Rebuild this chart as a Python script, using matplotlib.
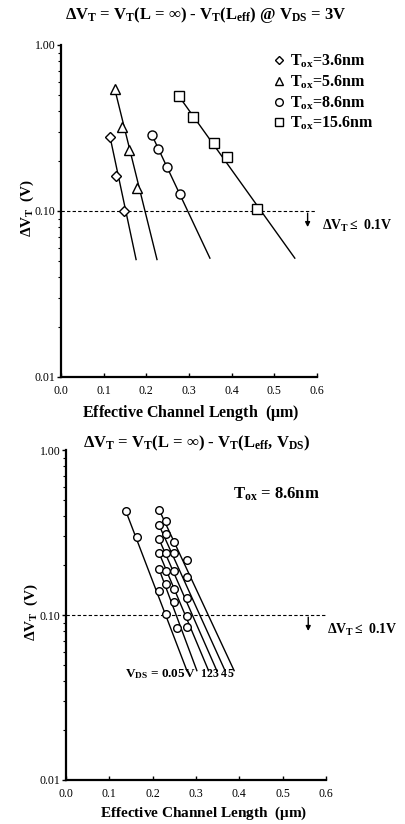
import numpy as np
import matplotlib
matplotlib.use("Agg")
import matplotlib.pyplot as plt
from matplotlib.lines import Line2D

plt.rcParams['font.family'] = ['Liberation Serif', 'DejaVu Serif']
plt.rcParams['mathtext.fontset'] = 'custom'
plt.rcParams['mathtext.rm'] = 'Liberation Serif:bold'
plt.rcParams['mathtext.bf'] = 'Liberation Serif:bold'
plt.rcParams['mathtext.it'] = 'Liberation Serif:bold'

# ---- top panel: Tox series at VDS = 3V ----
tox_labels = ['T$_{ox}$=3.6nm', 'T$_{ox}$=5.6nm', 'T$_{ox}$=8.6nm', 'T$_{ox}$=15.6nm']
tox_markers = ['D', '^', 'o', 's']
tox_L = [
    [0.115, 0.129, 0.148],
    [0.126, 0.143, 0.159, 0.178],
    [0.213, 0.227, 0.248, 0.279],
    [0.276, 0.309, 0.358, 0.389, 0.459],
]
tox_dvt = [
    [0.279, 0.163, 0.100],
    [0.543, 0.321, 0.233, 0.138],
    [0.287, 0.236, 0.184, 0.126],
    [0.493, 0.368, 0.257, 0.211, 0.103],
]
# lower end of each fitted line
tox_end_L = [0.176, 0.225, 0.349, 0.548]
tox_end_dvt = [0.051, 0.051, 0.052, 0.052]

# ---- bottom panel: VDS series at Tox = 8.6nm ----
vds_labels = ['0.05V', '1', '2', '3', '4', '5']
vds_L = [
    [0.138, 0.165, 0.215, 0.231, 0.256],
    [0.215, 0.231, 0.250, 0.280],
    [0.215, 0.231, 0.250, 0.280],
    [0.215, 0.231, 0.250, 0.280],
    [0.215, 0.231, 0.250, 0.280],
    [0.215, 0.231, 0.250, 0.280],
]
vds_dvt = [
    [0.427, 0.297, 0.139, 0.102, 0.083],
    [0.189, 0.155, 0.120, 0.085],
    [0.237, 0.185, 0.143, 0.099],
    [0.287, 0.237, 0.185, 0.127],
    [0.349, 0.310, 0.237, 0.170],
    [0.434, 0.370, 0.277, 0.216],
]
vds_end_L = [0.279, 0.302, 0.329, 0.348, 0.367, 0.388]
vds_end_dvt = [0.046, 0.046, 0.046, 0.046, 0.046, 0.046]

x_ticks = [0.0, 0.1, 0.2, 0.3, 0.4, 0.5, 0.6]
y_ticks = [0.01, 0.10, 1.00]
y_tick_labels = ['0.01', '0.10', '1.00']

W, H = 406, 824
fig = plt.figure(figsize=(W / 100, H / 100), dpi=100)


def px_axes(l, t, r, b):
    return fig.add_axes([l / W, 1 - b / H, (r - l) / W, (b - t) / H])


def style_axes(ax):
    ax.set_xlim(0, 0.6)
    ax.set_ylim(0.01, 1.0)
    ax.set_yscale('log')
    for s in ['top', 'right']:
        ax.spines[s].set_visible(False)
    for s in ['left', 'bottom']:
        ax.spines[s].set_linewidth(1.6)
    ax.set_xticks(x_ticks)
    ax.set_xticklabels(['%.1f' % v for v in x_ticks])
    ax.set_yticks(y_ticks)
    ax.set_yticklabels(y_tick_labels)
    ax.tick_params(axis='x', direction='in', length=3, width=1, labelsize=8.5, pad=6)
    ax.tick_params(axis='y', which='major', direction='out', length=3, width=1, labelsize=8.5, pad=1)
    ax.tick_params(axis='y', which='minor', direction='out', length=2, width=0.8)
    ax.set_facecolor('none')


def threshold(ax, arrow_x, text_x):
    ax.plot([0, 0.6], [0.1, 0.1], color='black', lw=0.8, ls=(0, (3, 2)))
    ax.annotate('', xy=(arrow_x, 0.08), xytext=(arrow_x, 0.097),
                arrowprops=dict(arrowstyle='-|>', lw=1.0, color='black',
                                mutation_scale=7, shrinkA=0, shrinkB=0),
                annotation_clip=False)
    ax.text(text_x, 0.081, r'$\Delta$V$_\mathbf{T}$$\leq$ 0.1V', fontsize=10, fontweight='bold',
            va='center', ha='left', clip_on=False)


# top axes
ax1 = px_axes(61, 45, 317, 377)
style_axes(ax1)
handles = []
for L, v, el, ev, m, lab in zip(tox_L, tox_dvt, tox_end_L, tox_end_dvt, tox_markers, tox_labels):
    ax1.plot([L[0], el], [v[0], ev], color='black', lw=1.0, zorder=2)
    ms = 5 if m == 'D' else 6.5
    ax1.plot(L, v, ls='none', marker=m, ms=ms, mfc='white', mec='black', mew=1.0, zorder=3)
    handles.append(Line2D([], [], ls='none', marker=m, ms=ms - 1, mfc='white', mec='black', mew=1.0, label=lab))
leg = ax1.legend(handles=handles, loc='upper left', bbox_to_anchor=(0.795, 0.995), frameon=False,
                 prop={'weight': 'bold', 'size': 11.5}, handletextpad=0.2, labelspacing=0.2,
                 handlelength=1.0, borderaxespad=0)
threshold(ax1, 0.578, 0.612)

# bottom axes
ax2 = px_axes(66, 450, 326, 780)
style_axes(ax2)
for L, v, el, ev in zip(vds_L, vds_dvt, vds_end_L, vds_end_dvt):
    ax2.plot([L[0], el], [v[0], ev], color='black', lw=1.0, zorder=2)
    ax2.plot(L, v, ls='none', marker='o', ms=5.5, mfc='white', mec='black', mew=1.0, zorder=3)
threshold(ax2, 0.559, 0.603)
ax2.text(0.386, 0.54, 'T$_{ox}$ = 8.6nm', fontsize=12, fontweight='bold', va='center')
ax2.text(0.137, 0.0438, 'V$_{DS}$ = 0.05V', fontsize=9.5, fontweight='bold', va='center')
for lab, xl in zip(vds_labels[1:], [0.317, 0.332, 0.346, 0.364, 0.380]):
    ax2.text(xl, 0.0438, lab, fontsize=8.5, fontweight='bold', va='center', ha='center')

# titles and axis labels
bold = dict(fontweight='bold', ha='center', va='center')
fig.text(206 / W, 1 - 15 / H,
         r'$\Delta$V$_\mathbf{T}$ = V$_\mathbf{T}$(L = $\infty$) - V$_\mathbf{T}$(L$_\mathbf{eff}$) @ V$_\mathbf{DS}$ = 3V',
         fontsize=12, **bold)
fig.text(197 / W, 1 - 443 / H,
         r'$\Delta$V$_\mathbf{T}$ = V$_\mathbf{T}$(L = $\infty$) - V$_\mathbf{T}$(L$_\mathbf{eff}$, V$_\mathbf{DS}$)',
         fontsize=12, **bold)
fig.text(191 / W, 1 - 413 / H, 'Effective Channel Length  ($\\mu$m)', fontsize=11.5, **bold)
fig.text(204 / W, 1 - 813 / H, 'Effective Channel Length  ($\\mu$m)', fontsize=11, **bold)
fig.text(27 / W, 1 - 208 / H, r'$\Delta$V$_\mathbf{T}$  (V)', fontsize=11, rotation=90, **bold)
fig.text(31 / W, 1 - 612 / H, r'$\Delta$V$_\mathbf{T}$  (V)', fontsize=11, rotation=90, **bold)

fig.savefig('out.png', dpi=100, facecolor='white')
